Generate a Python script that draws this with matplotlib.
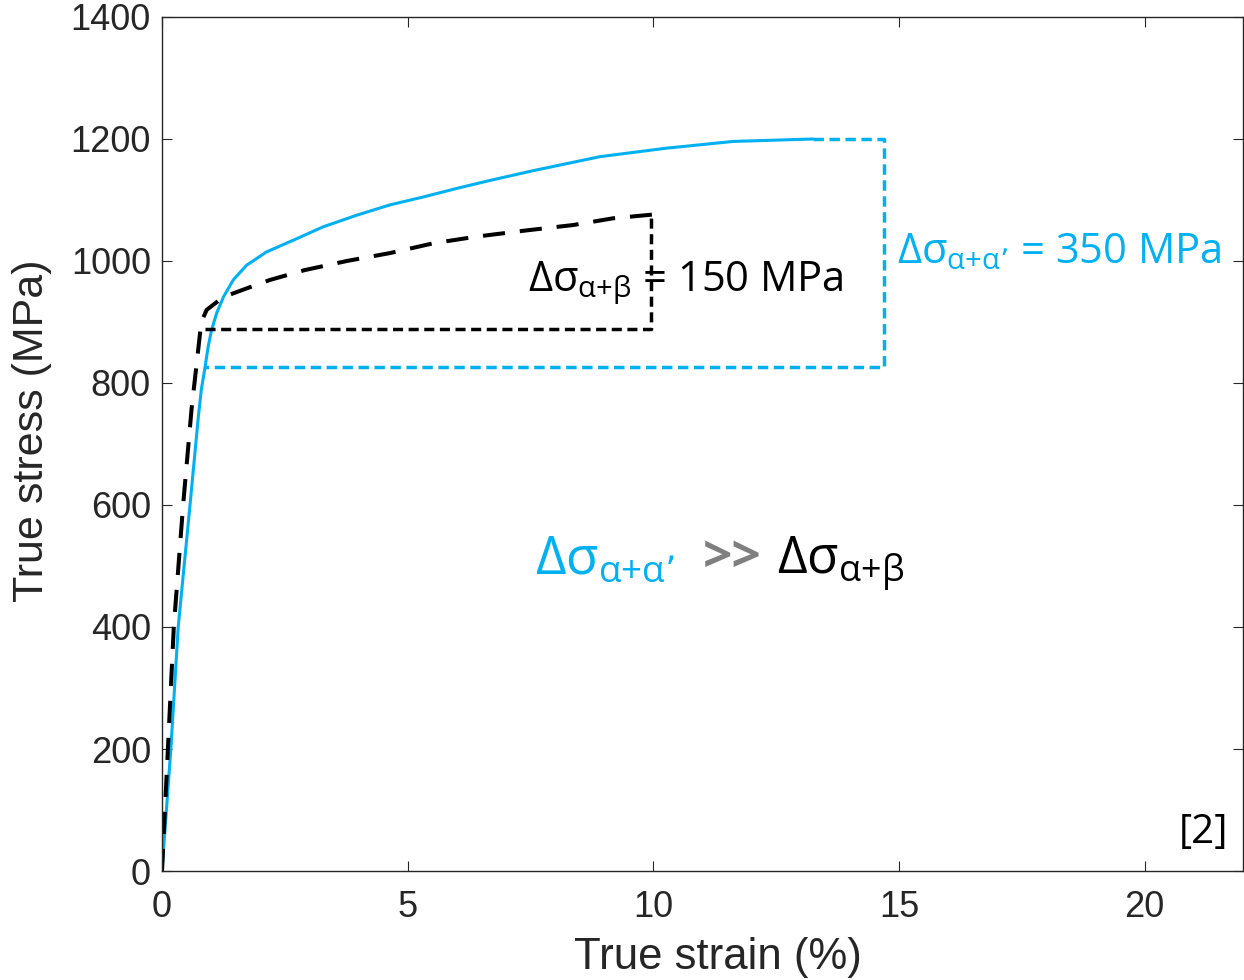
import numpy as np
import matplotlib.pyplot as plt

# alpha + alpha' microstructure (blue curve)
strain_aa = [0, 0.18, 0.33, 0.57, 0.74, 0.80, 0.88, 0.94, 1.01, 1.11, 1.25, 1.45,
             1.72, 2.13, 2.67, 3.28, 3.96, 4.64, 5.32, 6.0, 6.67, 7.55, 8.91,
             10.27, 11.62, 13.25]
stress_aa = [0, 200, 400, 600, 745, 789, 828, 860, 887, 914, 941, 969,
             993, 1015, 1034, 1056, 1075, 1092, 1105, 1119, 1132, 1148, 1171,
             1185, 1196, 1200]

# alpha + beta microstructure (black dashed curve)
strain_ab = [0, 0.12, 0.24, 0.43, 0.6, 0.8, 0.91, 1.25, 1.72, 2.2, 2.9, 3.76,
             4.64, 5.52, 6.4, 7.4, 8.37, 9.18, 9.97]
stress_ab = [0, 200, 400, 600, 756, 900, 920, 941, 955, 969, 985, 1000,
             1013, 1029, 1040, 1050, 1059, 1070, 1076]

# hardening brackets (yield -> max stress)
box_ab_x = [0.875, 9.96, 9.96]
box_ab_y = [889, 889, 1076]
box_aa_x = [13.25, 14.7, 14.7, 0.88]
box_aa_y = [1200, 1200, 826, 826]

x_ticks = [0, 5, 10, 15, 20]
y_ticks = [0, 200, 400, 600, 800, 1000, 1200, 1400]

blue = '#00B0F0'
axcol = '#262626'
note_font = ['Open Sans', 'DejaVu Sans']

plt.rcParams['mathtext.default'] = 'regular'

fig = plt.figure(figsize=(12.44, 9.8), dpi=100)
ax = fig.add_axes([162 / 1244, 1 - 871 / 980, 1081 / 1244, 854 / 980])

ax.plot(strain_aa, stress_aa, color=blue, lw=2.2, solid_capstyle='round')
ax.plot(strain_ab, stress_ab, color='black', lw=2.9, dashes=(5.5, 3.7))
ax.plot(box_ab_x, box_ab_y, color='black', lw=2.5, dashes=(2.9, 1.6))
ax.plot(box_aa_x, box_aa_y, color=blue, lw=2.5, dashes=(3.0, 1.6))

ax.set_xlim(0, 22)
ax.set_ylim(0, 1400)
ax.set_xticks(x_ticks)
ax.set_yticks(y_ticks)
ax.tick_params(direction='in', length=7, width=0.8, top=True, right=True,
               colors=axcol, labelsize=26, pad=8)
ax.tick_params(axis='x', pad=14)
for lab in ax.get_xticklabels() + ax.get_yticklabels():
    lab.set_family('Liberation Sans')
for sp in ax.spines.values():
    sp.set_color(axcol)
    sp.set_linewidth(1.0)

ax.set_xlabel('True strain (%)', fontsize=31.5, family='Liberation Sans',
              color=axcol, labelpad=8)
ax.set_ylabel('True stress (MPa)', fontsize=31, family='Liberation Sans',
              color=axcol, labelpad=13)
ax.xaxis.label.set_x(0.514)
ax.yaxis.label.set_y(0.515)

ax.text(7.45, 951, r'$\Delta\sigma_{\alpha{+}\beta}$ = 150 MPa', fontsize=30,
        family=note_font, color='black', ha='left', va='baseline')
ax.text(14.95, 997, r'$\Delta\sigma_{\alpha{+}\alpha’}$ = 350 MPa', fontsize=30,
        family=note_font, color=blue, ha='left', va='baseline')

ax.text(7.59, 488, r'$\Delta\sigma_{\alpha{+}\alpha’}$', fontsize=38,
        family=note_font, color=blue, ha='left', va='baseline')
ax.text(11.0, 490, '>>', fontsize=37, family=note_font, color='#7F7F7F',
        fontweight='bold', ha='left', va='baseline')
ax.text(12.51, 488, r'$\Delta\sigma_{\alpha{+}\beta}$', fontsize=37,
        family=note_font, color='black', ha='left', va='baseline')

ax.text(21.69, 46, '[2]', fontsize=29, family=note_font, color='black',
        ha='right', va='baseline')

fig.savefig('out.png', dpi=100)
